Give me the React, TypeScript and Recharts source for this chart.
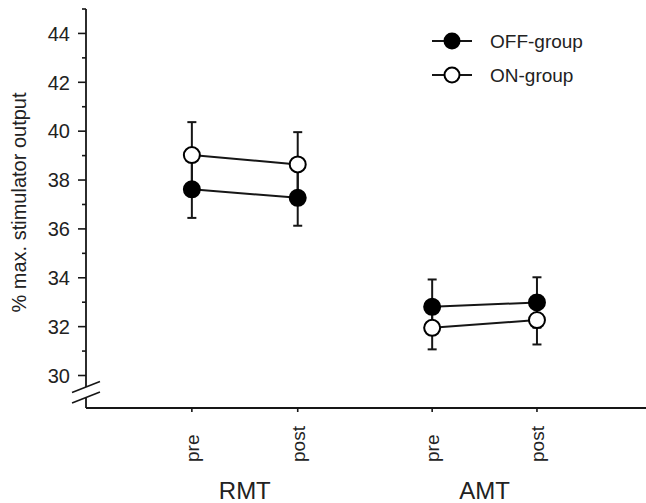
import React from "react";
import {
  LineChart,
  Line,
  XAxis,
  YAxis,
  ErrorBar,
  ReferenceLine,
  Legend,
  Label,
} from "recharts";

// categories
const conditions = ["RMT", "AMT"];
const timepoints = ["pre", "post"];
// position of each pre/post tick on the numeric x axis (RMT pre, RMT post, AMT pre, AMT post)
const xPos = [1, 2, 3.27, 4.26];

// means (% max. stimulator output)
const offMeans = [37.62, 37.27, 32.81, 32.99];
const onMeans = [39.02, 38.64, 31.95, 32.27];
// error bars
const offErr = [1.17, 1.14, 1.12, 1.03];
const onErr = [1.35, 1.32, 0.88, 1.0];

const seriesNames = ["OFF-group", "ON-group"];

const yMajorTicks = [30, 32, 34, 36, 38, 40, 42, 44];
const yMinorTicks = [31, 33, 35, 37, 39, 41, 43, 45];

const FONT = '"Liberation Sans", Arial, sans-serif';
const INK = "#161616";

const Y_MIN = 28.67;
const Y_MAX = 45;
const X_MAX = 5.29;

// one small table per condition/group so the lines break between RMT and AMT
const rowsFor = (means: number[], errs: number[], c: number) =>
  timepoints.map((t, i) => {
    const k = c * 2 + i;
    return { x: xPos[k], tp: t, value: means[k], err: errs[k] };
  });

const groupMid = conditions.map((_, c) => (xPos[c * 2] + xPos[c * 2 + 1]) / 2);

const allYTicks = [...yMajorTicks, ...yMinorTicks].sort((a, b) => a - b);

function YTick(props: any) {
  const { x, y, payload } = props;
  const major = yMajorTicks.includes(payload.value);
  return (
    <g>
      <line x1={x} y1={y} x2={x - (major ? 8 : 4)} y2={y} stroke={INK} strokeWidth={1.6} />
      {major && (
        <text
          x={x - 16}
          y={y}
          dy="0.36em"
          textAnchor="end"
          fontFamily={FONT}
          fontSize={20}
          fill="#222"
        >
          {payload.value}
        </text>
      )}
    </g>
  );
}

function XTick(props: any) {
  const { x, y, index } = props;
  const label = timepoints[index % 2];
  return (
    <text
      transform={`translate(${x + 7}, ${y + 48}) rotate(-90)`}
      textAnchor="start"
      fontFamily={FONT}
      fontSize={19}
      fill="#222"
    >
      {label}
    </text>
  );
}

function GroupTick(props: any) {
  const { x, y, index } = props;
  return (
    <text x={x} y={y + 21} textAnchor="middle" fontFamily={FONT} fontSize={24} fill="#222">
      {conditions[index]}
    </text>
  );
}

function YLabel(props: any) {
  const vb = props.viewBox || { x: 0, y: 9, width: 86, height: 399 };
  const cx = vb.x + 19;
  const cy = vb.y + vb.height / 2 - 6;
  return (
    <text
      transform={`translate(${cx}, ${cy}) rotate(-90)`}
      textAnchor="middle"
      dominantBaseline="central"
      fontFamily={FONT}
      fontSize={20}
      fill="#222"
    >
      % max. stimulator output
    </text>
  );
}

function LegendBox() {
  return (
    <svg width={200} height={72}>
      {seriesNames.map((name, i) => {
        const cy = 19 + i * 34;
        return (
          <g key={name}>
            <line x1={7} y1={cy} x2={47} y2={cy} stroke={INK} strokeWidth={2} />
            <circle
              cx={27}
              cy={cy}
              r={7.5}
              fill={i === 0 ? "#000" : "#fff"}
              stroke="#000"
              strokeWidth={2}
            />
            <text x={65} y={cy} dy="0.36em" fontFamily={FONT} fontSize={19} fill="#222">
              {name}
            </text>
          </g>
        );
      })}
    </svg>
  );
}

export default function App() {
  const offDot = { r: 8, fill: "#000", stroke: "#000", strokeWidth: 2 };
  const onDot = { r: 8, fill: "#fff", stroke: "#000", strokeWidth: 2 };

  return (
    <div style={{ position: "absolute", left: 0, top: 0, width: 646, height: 503, background: "#fff" }}>
      <LineChart width={646} height={503} margin={{ top: 9, right: 0, bottom: 0, left: 0 }}>
        <XAxis
          type="number"
          dataKey="x"
          domain={[0, X_MAX]}
          ticks={xPos}
          interval={0}
          allowDataOverflow
          height={70}
          tickSize={4}
          tickMargin={2}
          tickLine={{ stroke: INK, strokeWidth: 1.6 }}
          axisLine={{ stroke: INK, strokeWidth: 1.8 }}
          tick={<XTick />}
        />
        <XAxis
          xAxisId="group"
          type="number"
          dataKey="x"
          domain={[0, X_MAX]}
          ticks={groupMid}
          interval={0}
          allowDataOverflow
          height={25}
          tickSize={0}
          tickMargin={0}
          axisLine={false}
          tickLine={false}
          tick={<GroupTick />}
        />
        <YAxis
          type="number"
          domain={[Y_MIN, Y_MAX]}
          ticks={allYTicks}
          interval={0}
          allowDataOverflow
          width={86}
          tickSize={0}
          tickMargin={0}
          axisLine={false}
          tickLine={false}
          tick={<YTick />}
        >
          <Label content={<YLabel />} />
        </YAxis>

        {/* y axis line with a break just below 30 */}
        <ReferenceLine
          segment={[{ x: 0, y: Y_MAX }, { x: 0, y: 29.53 }]}
          stroke={INK}
          strokeWidth={1.8}
          ifOverflow="visible"
        />
        <ReferenceLine
          segment={[{ x: 0, y: 29.1 }, { x: 0, y: Y_MIN }]}
          stroke={INK}
          strokeWidth={1.8}
          ifOverflow="visible"
        />
        <ReferenceLine
          segment={[{ x: -0.132, y: 29.3 }, { x: 0.132, y: 29.75 }]}
          stroke={INK}
          strokeWidth={1.6}
          ifOverflow="visible"
        />
        <ReferenceLine
          segment={[{ x: -0.132, y: 28.875 }, { x: 0.132, y: 29.325 }]}
          stroke={INK}
          strokeWidth={1.6}
          ifOverflow="visible"
        />

        {conditions.map((c, ci) => (
          <Line
            key={`off-${c}`}
            data={rowsFor(offMeans, offErr, ci)}
            dataKey="value"
            name={seriesNames[0]}
            stroke={INK}
            strokeWidth={2}
            dot={offDot}
            activeDot={false}
            isAnimationActive={false}
          >
            <ErrorBar dataKey="err" direction="y" width={4.5} stroke={INK} strokeWidth={2} />
          </Line>
        ))}
        {conditions.map((c, ci) => (
          <Line
            key={`on-${c}`}
            data={rowsFor(onMeans, onErr, ci)}
            dataKey="value"
            name={seriesNames[1]}
            stroke={INK}
            strokeWidth={2}
            dot={onDot}
            activeDot={false}
            isAnimationActive={false}
          >
            <ErrorBar dataKey="err" direction="y" width={4.5} stroke={INK} strokeWidth={2} />
          </Line>
        ))}

        <Legend
          layout="vertical"
          align="center"
          verticalAlign="middle"
          content={() => <LegendBox />}
          wrapperStyle={{ left: 425, top: 22, width: 200, height: 72 }}
        />
      </LineChart>
    </div>
  );
}
